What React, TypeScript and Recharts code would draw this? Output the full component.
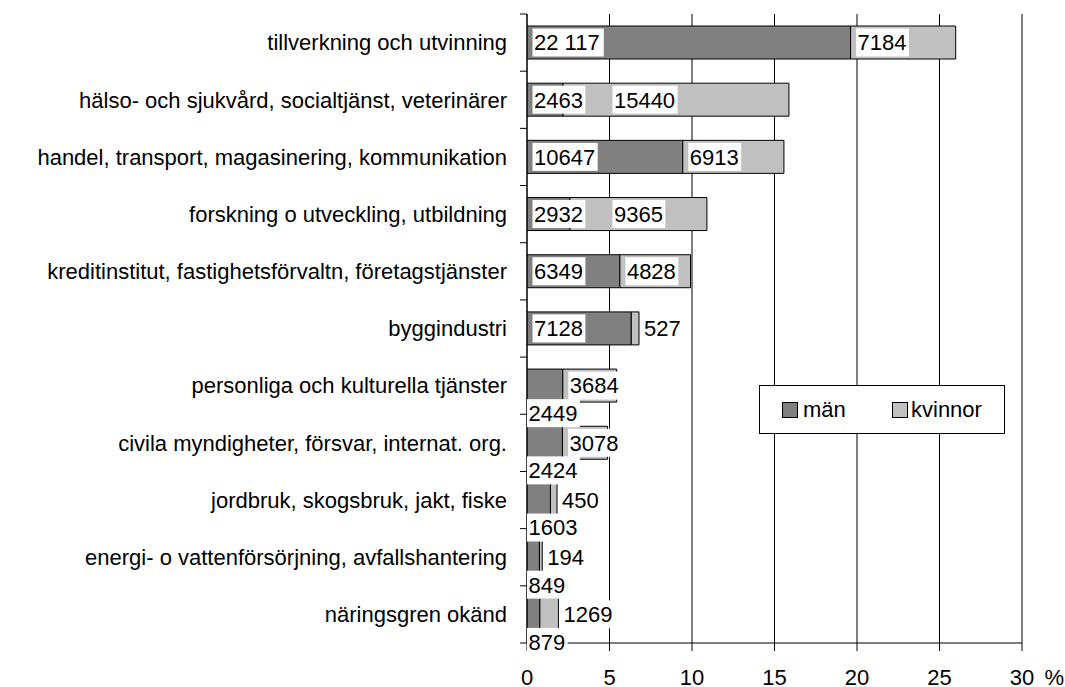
import React from 'react';
import { BarChart, Bar, XAxis, YAxis, CartesianGrid, LabelList, ReferenceLine } from 'recharts';

const categories = [
  'tillverkning och utvinning',
  'hälso- och sjukvård, socialtjänst, veterinärer',
  'handel, transport, magasinering, kommunikation',
  'forskning o utveckling, utbildning',
  'kreditinstitut, fastighetsförvaltn, företagstjänster',
  'byggindustri',
  'personliga och kulturella tjänster',
  'civila myndigheter, försvar, internat. org.',
  'jordbruk, skogsbruk, jakt, fiske',
  'energi- o vattenförsörjning, avfallshantering',
  'näringsgren okänd',
];
const menCounts = [22117, 2463, 10647, 2932, 6349, 7128, 2449, 2424, 1603, 849, 879];
const womenCounts = [7184, 15440, 6913, 9365, 4828, 527, 3684, 3078, 450, 194, 1269];
const menLabels = ['22 117', '2463', '10647', '2932', '6349', '7128', '2449', '2424', '1603', '849', '879'];
const womenLabels = ['7184', '15440', '6913', '9365', '4828', '527', '3684', '3078', '450', '194', '1269'];
const xTicks = [0, 5, 10, 15, 20, 25, 30];
const seriesNames = ['män', 'kvinnor'];

const grandTotal = [...menCounts, ...womenCounts].reduce((a, b) => a + b, 0);
const menPct = menCounts.map((v) => (v / grandTotal) * 100);
const womenPct = womenCounts.map((v) => (v / grandTotal) * 100);
const data = categories.map((name, i) => ({ name, men: menPct[i], women: womenPct[i] }));

const W = 1065;
const H = 687;
const MARGIN = { top: 14, right: 43, bottom: 14, left: 7 };
const Y_W = 520;
const X_H = 30;
const PLOT_H = H - MARGIN.top - MARGIN.bottom - X_H;
const BAND = PLOT_H / categories.length;
const FS = 22;
const FONT = '"Liberation Sans", Arial, sans-serif';
const MEN_COLOR = '#808080';
const WOMEN_COLOR = '#C0C0C0';

const textWidth = (s: string) =>
  s.split('').reduce((a, c) => a + (c === ' ' ? 0.278 : 0.556), 0) * FS;

const BoxLabel = ({ tx, cy, text }: { tx: number; cy: number; text: string }) => {
  const tw = textWidth(text);
  return (
    <g>
      <rect x={tx - 1.5} y={cy - 14} width={tw + 4} height={28} fill="#fff" stroke="none" />
      <text x={tx} y={cy + 0.358 * FS} fontSize={FS} fontFamily={FONT} fill="#000">
        {text}
      </text>
    </g>
  );
};

const LabelPair = (props: any) => {
  const vb = props.viewBox || {};
  const x = Number(props.x ?? vb.x);
  const y = Number(props.y ?? vb.y);
  const w = Number(props.width ?? vb.width);
  const h = Number(props.height ?? vb.height);
  const i = props.index;
  if (i == null || !isFinite(x) || !isFinite(w)) return null;
  const pxPer = w / womenPct[i];
  const x0 = x - menPct[i] * pxPer;
  const cy = y + h / 2;
  const total = menPct[i] + womenPct[i];
  const mText = menLabels[i];
  const wText = womenLabels[i];
  let mtx: number;
  let mcy: number;
  let menInside = false;
  if (total >= 6) {
    mtx = x0 + 7;
    mcy = cy;
    menInside = true;
  } else {
    mtx = x0 + 1.5;
    mcy = cy + BAND / 2 - 1;
  }
  const menBoxEnd = mtx + textWidth(mText) + 3;
  let wtx: number;
  if (w >= 40) {
    wtx = x + 7;
    if (menInside && wtx < menBoxEnd + 5) wtx = menBoxEnd + 28;
  } else {
    wtx = x + w + 5;
  }
  return (
    <g>
      <BoxLabel tx={mtx} cy={mcy} text={mText} />
      <BoxLabel tx={wtx} cy={cy} text={wText} />
    </g>
  );
};

const YTick = (props: any) => {
  const { x, y, payload, index } = props;
  const axisX = MARGIN.left + Y_W;
  return (
    <g>
      <text x={x} y={y} dy={0.355 * FS} textAnchor="end" fontSize={FS} fontFamily={FONT} fill="#000">
        {payload.value}
      </text>
      <line x1={axisX - 7} x2={axisX} y1={y - BAND / 2} y2={y - BAND / 2} stroke="#000" />
      {index === categories.length - 1 && (
        <line x1={axisX - 7} x2={axisX} y1={y + BAND / 2} y2={y + BAND / 2} stroke="#000" />
      )}
    </g>
  );
};

const XTick = (props: any) => {
  const { x, y, payload } = props;
  return (
    <g>
      <text x={x} y={y + 32} textAnchor="middle" fontSize={FS} fontFamily={FONT} fill="#000">
        {payload.value}
      </text>
      {payload.value === 30 && (
        <text x={x + 22.5} y={y + 32} fontSize={FS} fontFamily={FONT} fill="#000">
          %
        </text>
      )}
    </g>
  );
};

const LegendBox = () => (
  <div
    style={{
      position: 'absolute',
      left: 759,
      top: 385,
      width: 246,
      height: 49,
      boxSizing: 'border-box',
      border: '1px solid #000',
      background: '#fff',
      fontFamily: FONT,
      fontSize: FS,
      color: '#000',
    }}
  >
    <div style={{ position: 'absolute', left: 22, top: 16, width: 16, height: 16, boxSizing: 'border-box', border: '1px solid #000', background: MEN_COLOR }} />
    <span style={{ position: 'absolute', left: 43, top: -1, lineHeight: '49px' }}>{seriesNames[0]}</span>
    <div style={{ position: 'absolute', left: 132, top: 16, width: 16, height: 16, boxSizing: 'border-box', border: '1px solid #000', background: WOMEN_COLOR }} />
    <span style={{ position: 'absolute', left: 151, top: -1, lineHeight: '49px' }}>{seriesNames[1]}</span>
  </div>
);

export default function App() {
  return (
    <div style={{ position: 'absolute', left: 0, top: 0, width: W, height: H, background: '#fff' }}>
      <BarChart
        width={W}
        height={H}
        data={data}
        layout="vertical"
        margin={MARGIN}
        barSize={33}
        style={{ fontFamily: FONT }}
      >
        <CartesianGrid horizontal={false} vertical stroke="#000" strokeWidth={1} />
        <XAxis
          type="number"
          domain={[0, 30]}
          ticks={xTicks}
          interval={0}
          height={X_H}
          tickSize={8}
          tickMargin={2}
          axisLine={{ stroke: '#000' }}
          tickLine={{ stroke: '#000' }}
          tick={<XTick />}
          allowDataOverflow
        />
        <XAxis
          xAxisId="top"
          orientation="top"
          type="number"
          domain={[0, 30]}
          height={0}
          tick={false}
          tickLine={false}
          axisLine={{ stroke: '#808080' }}
        />
        <YAxis
          type="category"
          dataKey="name"
          width={Y_W}
          tickSize={7}
          tickMargin={13}
          tickLine={false}
          axisLine={{ stroke: '#000' }}
          tick={<YTick />}
          interval={0}
        />
        <ReferenceLine x={30} stroke="#808080" strokeWidth={1.5} />
        <Bar dataKey="men" name={seriesNames[0]} stackId="a" fill={MEN_COLOR} stroke="#000" strokeWidth={1} isAnimationActive={false} />
        <Bar dataKey="women" name={seriesNames[1]} stackId="a" fill={WOMEN_COLOR} stroke="#000" strokeWidth={1} isAnimationActive={false}>
          <LabelList dataKey="women" content={<LabelPair />} />
        </Bar>
      </BarChart>
      <LegendBox />
    </div>
  );
}
